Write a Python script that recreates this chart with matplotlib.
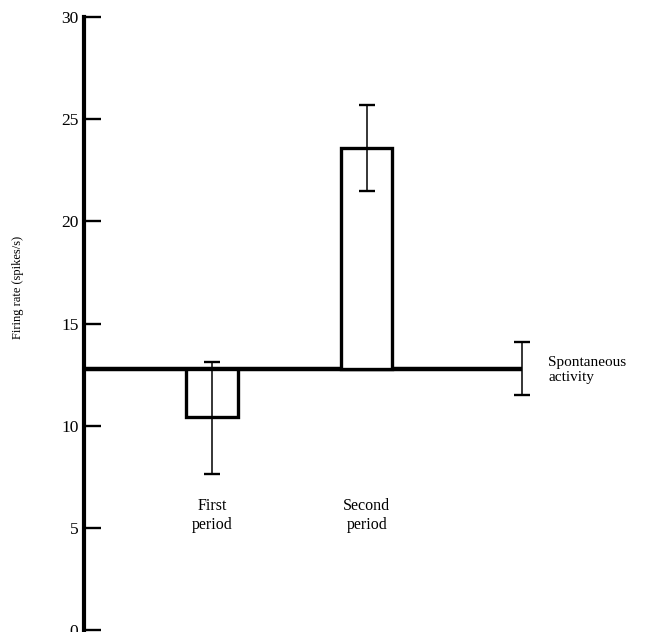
import matplotlib
matplotlib.use("Agg")
import matplotlib.pyplot as plt
import numpy as np

plt.rcParams['font.family'] = ['Liberation Serif', 'DejaVu Serif']

# Data
categories = ["First\nperiod", "Second\nperiod"]
means = [10.4, 23.6]
err_low = [7.65, 21.5]
err_high = [13.1, 25.7]
spont_mean = 12.75
spont_low = 11.5
spont_high = 14.1
yticks = [0, 5, 10, 15, 20, 25, 30]

fig = plt.figure(figsize=(6.52, 6.32), dpi=100)
ax = fig.add_axes([84/652, 1 - 630/632, 1 - 84/652, (630 - 17)/632])

pos = np.array([1, 2])
heights = np.array(means) - spont_mean
ax.bar(pos, heights, bottom=spont_mean, width=0.33, facecolor='white',
       edgecolor='black', linewidth=2.4, zorder=2)

yerr = [np.array(means) - np.array(err_low), np.array(err_high) - np.array(means)]
ax.errorbar(pos, means, yerr=yerr, fmt='none', ecolor='black', elinewidth=1.1,
            capsize=5.5, capthick=1.7, zorder=3)

# spontaneous activity line and error bar
ax.plot([0.17, 3], [spont_mean, spont_mean], color='black', linewidth=3.2,
        solid_capstyle='butt', zorder=1)
ax.errorbar([3], [spont_mean], yerr=[[spont_mean - spont_low], [spont_high - spont_mean]],
            fmt='none', ecolor='black', elinewidth=1.1, capsize=5.5, capthick=1.7)
ax.text(3.17, spont_mean - 0.05, "Spontaneous\nactivity", ha='left', va='center',
        fontsize=11, linespacing=1.2, clip_on=False)

for p, lab in zip(pos, categories):
    ax.text(p, 5.6, lab, ha='center', va='center', fontsize=11.5, linespacing=1.2)

ax.set_xlim(0.174, 3.84)
ax.set_ylim(0, 30)
ax.set_yticks(yticks)
ax.set_yticklabels([str(t) for t in yticks], fontsize=12.5)
ax.tick_params(axis='y', direction='in', length=12, width=1.7, pad=4)
ax.set_xticks([])
for s in ['top', 'right', 'bottom']:
    ax.spines[s].set_visible(False)
ax.spines['left'].set_linewidth(3.0)
ax.patch.set_alpha(0)

fig.text(18/652, 1 - 287/632, "Firing rate (spikes/s)", rotation=90,
         ha='center', va='center', fontsize=9)

fig.savefig("out.png", dpi=100)
